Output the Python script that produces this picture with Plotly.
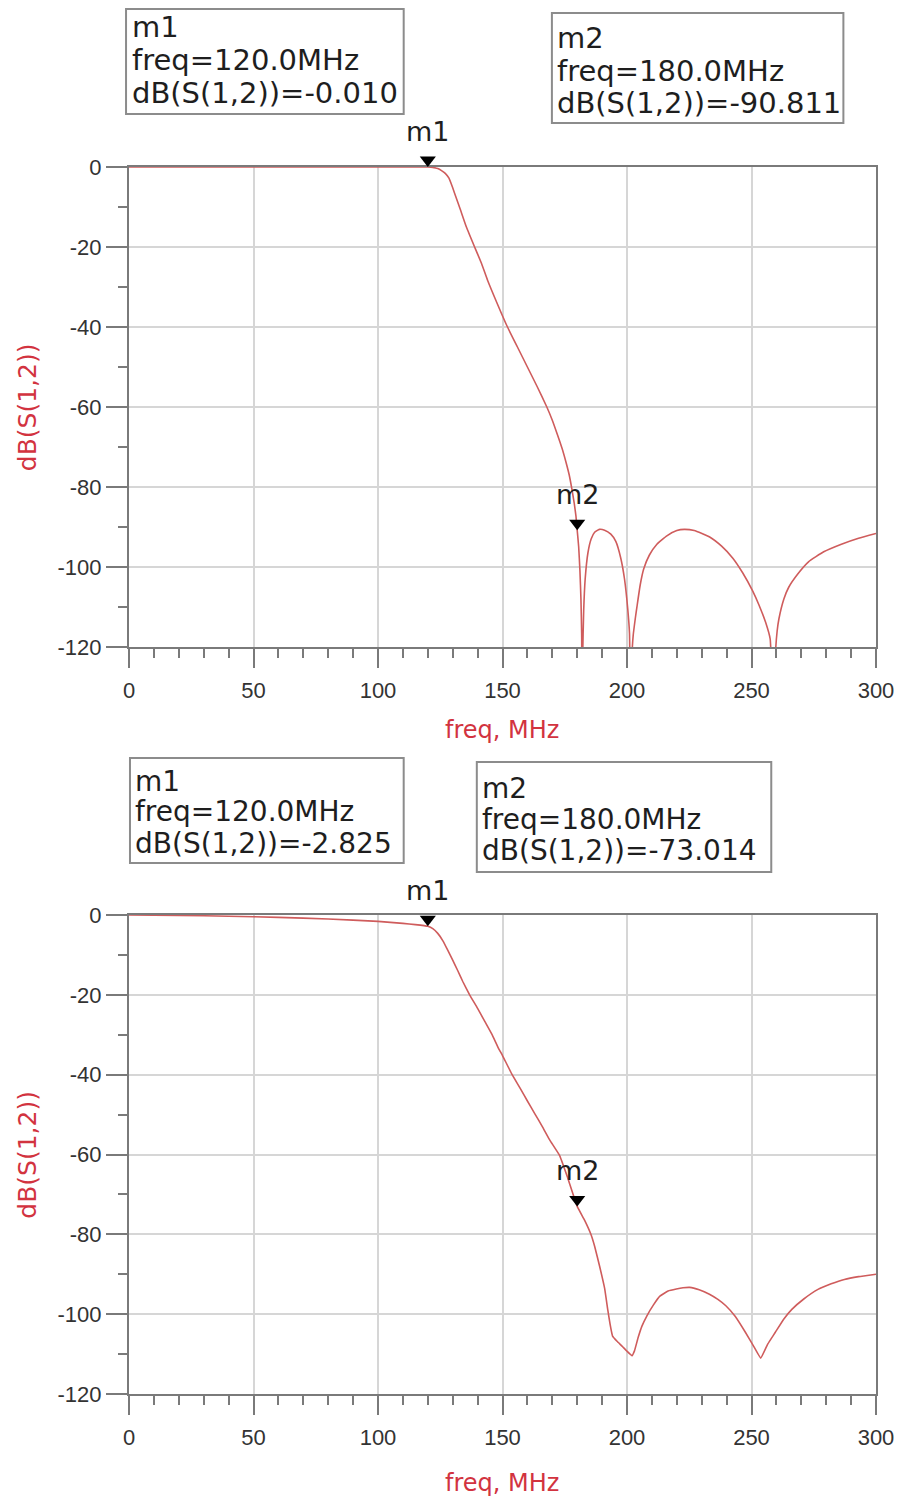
import plotly.graph_objects as go

# ---------------- data ----------------
top_freq = [0, 60, 110, 118, 120, 122, 124, 125.5, 127, 128.5,
            130, 131.5, 133, 135.5, 138.8, 141.5, 144, 148, 152, 156,
            160, 164, 167.8, 170, 172, 174, 175.5, 176.8, 177.8, 178.8,
            179.5, 180, 180.6, 181.1, 181.5, 181.8, 182, 182.2, 182.6, 183.2,
            184.3, 185.6, 187, 188.9, 191, 193.5, 195.5, 197.5, 199, 200.3,
            201, 201.5, 202, 202.5, 203.3, 204.1, 205.3, 206.7, 209, 212,
            216, 220, 223, 227, 233.2, 238, 242.5, 246.5, 250.4, 253,
            255.7, 257.5, 259, 259.6, 260.3, 261, 263, 265, 268.5, 272.9,
            279, 286.1, 293, 300]
top_db = [0, 0, 0, 0, -0.01, -0.1, -0.4, -0.9, -1.6, -2.8,
          -5.2, -7.9, -10.5, -15, -20, -24, -28.3, -34.3, -40, -45,
          -50, -55, -60, -63.3, -66.8, -70.5, -73.8, -77, -80.3, -84,
          -87.3, -90.8, -95, -101, -108, -117, -145, -122, -111, -103,
          -96.5, -93, -91.3, -90.6, -90.8, -91.8, -93.6, -97.8, -103, -110.5,
          -116.5, -145, -122, -117, -113, -109.5, -104.5, -100.5, -97, -94.3,
          -92.2, -90.9, -90.6, -90.9, -92.5, -94.8, -97.8, -101.5, -105.9, -109.5,
          -113.9, -118, -145, -122, -116, -113, -108, -105, -101.8, -98.7,
          -96.2, -94.3, -92.8, -91.6]

bot_freq = [0, 20, 40, 60, 80, 100, 110, 115, 120, 122,
            124, 126, 128, 130, 132, 134, 136.8, 140, 143, 146,
            148.4, 150, 153.7, 157, 160, 163, 166, 169, 172.9, 176,
            180, 183, 185.5, 187, 189, 191, 192.3, 193.2, 194.2, 196,
            198, 200, 202, 203, 204.5, 206, 208, 210.5, 213.2, 216.5,
            219.8, 222.5, 225.2, 229, 233.1, 236.5, 239.7, 243.5, 247.6, 251,
            253.7, 256.5, 259.5, 263, 266.2, 271, 276.7, 282, 287.3, 293,
            300]
bot_db = [0, -0.1, -0.3, -0.6, -1.0, -1.6, -2.1, -2.4, -2.83, -3.4,
          -4.6, -6.4, -8.8, -11.3, -13.9, -16.6, -20, -23.4, -26.8, -30.2,
          -33.4, -35.2, -39.8, -43.3, -46.6, -49.8, -53, -56.4, -60.2, -65.5,
          -73.0, -76.5, -80, -83, -88, -93.5, -99, -102.5, -105.5, -106.8,
          -108, -109.3, -110.4, -109.2, -105.8, -103, -100.4, -97.8, -95.5, -94.2,
          -93.7, -93.4, -93.3, -93.9, -95, -96.3, -97.9, -100.6, -104.6, -108.2,
          -111, -107.5, -104.6, -101.2, -98.8, -96.2, -93.8, -92.4, -91.3, -90.6,
          -90]

marker_names = ["m1", "m2"]
marker_freq = [120.0, 180.0]
top_marker_db = [-0.010, -90.811]
bot_marker_db = [-2.825, -73.014]

x_ticks = [0, 50, 100, 150, 200, 250, 300]
y_ticks = [0, -20, -40, -60, -80, -100, -120]

assert len(top_freq) == len(top_db)
assert len(bot_freq) == len(bot_db)

# ---------------- style / layout helpers ----------------
W, H = 906, 1497          # page size
OFF = 8                   # default body margin of the html page
L, R, T, B = 129, 885, 167, 1394          # outer plot-area bounds (page pixels)
TOP_BOTTOM_PX, BOT_TOP_PX = 647, 915
FIG_W, FIG_H = W - OFF, H - OFF


def pxx(p):
    return (p - L) / (R - L)


def pxy(p):
    return (B - p) / (B - T)


CURVE = "#cf5c5c"
AXIS_LINE = "#7a7a7a"
GRID = "#d6d6d6"
TITLE_RED = "#d2333f"
TEXT = "#1e1e1e"
TICK_FONT = dict(family="Liberation Sans, Arial, sans-serif", size=22, color="#333333")
MARK_FONT = dict(family="DejaVu Sans, sans-serif", size=27, color=TEXT)

fig = go.Figure()

fig.add_trace(go.Scatter(x=top_freq, y=top_db, mode="lines",
                         line=dict(color=CURVE, width=1.6, shape="spline", smoothing=0.4),
                         xaxis="x", yaxis="y", hoverinfo="skip"))
fig.add_trace(go.Scatter(x=bot_freq, y=bot_db, mode="lines",
                         line=dict(color=CURVE, width=1.6, shape="spline", smoothing=0.3),
                         xaxis="x2", yaxis="y2", hoverinfo="skip"))

for xa, ya, vals in [("x", "y", top_marker_db), ("x2", "y2", bot_marker_db)]:
    fig.add_trace(go.Scatter(
        x=marker_freq, y=vals, mode="markers",
        marker=dict(symbol="triangle-up", angle=180, standoff=7, size=14,
                    color="black"),
        xaxis=xa, yaxis=ya, cliponaxis=False, hoverinfo="skip"))
    for name, f, v in zip(marker_names, marker_freq, vals):
        fig.add_annotation(x=f, y=v, xref=xa, yref=ya, text=name,
                           showarrow=False, xanchor="center", yanchor="bottom",
                           yshift=18, font=MARK_FONT)

axis_common = dict(
    showline=True, linecolor=AXIS_LINE, linewidth=2, mirror=True,
    showgrid=True, gridcolor=GRID, gridwidth=1.5,
    zeroline=False, ticks="outside", tickcolor=AXIS_LINE, tickwidth=1.5,
    tickfont=TICK_FONT, layer="below traces",
)

xaxis_cfg = dict(axis_common, range=[0, 300], tickvals=x_ticks,
                 ticktext=[str(v) for v in x_ticks], ticklen=19,
                 ticklabelstandoff=4,
                 minor=dict(dtick=10, ticklen=9, tickcolor=AXIS_LINE,
                            tickwidth=1.5, ticks="outside", showgrid=False))
yaxis_cfg = dict(axis_common, range=[-120, 0], tickvals=y_ticks,
                 ticktext=[str(v) for v in y_ticks], ticklen=21,
                 minor=dict(dtick=10, ticklen=9, tickcolor=AXIS_LINE,
                            tickwidth=1.5, ticks="outside", showgrid=False))

fig.update_layout(
    width=FIG_W, height=FIG_H,
    margin=dict(l=L - OFF, r=W - R, t=T - OFF, b=FIG_H - (B - OFF), pad=0),
    paper_bgcolor="white", plot_bgcolor="white",
    showlegend=False,
    xaxis=dict(xaxis_cfg, domain=[0, 1], anchor="y"),
    yaxis=dict(yaxis_cfg, domain=[pxy(TOP_BOTTOM_PX), 1], anchor="x"),
    xaxis2=dict(xaxis_cfg, domain=[0, 1], anchor="y2"),
    yaxis2=dict(yaxis_cfg, domain=[0, pxy(BOT_TOP_PX)], anchor="x2"),
)

# axis titles
for cy_x, cy_y in [(730, (T + TOP_BOTTOM_PX) / 2), (1483, (BOT_TOP_PX + B) / 2)]:
    fig.add_annotation(x=pxx((L + R) / 2 - 1), y=pxy(cy_x), xref="paper", yref="paper",
                       text="freq, MHz", showarrow=False, xanchor="center",
                       yanchor="middle",
                       font=dict(family="DejaVu Sans, sans-serif", size=24,
                                 color=TITLE_RED))
    fig.add_annotation(x=pxx(26), y=pxy(cy_y), xref="paper", yref="paper",
                       text="dB(S(1,2))", showarrow=False, textangle=-90,
                       xanchor="center", yanchor="middle",
                       font=dict(family="DejaVu Sans, sans-serif", size=25,
                                 color=TITLE_RED))

# marker readout boxes:
# (left, top, right, bottom, text-left, line centers, font size, marker index, values)
boxes = [
    (126, 9, 407, 114, 131, [27, 60, 93], 29, 0, top_marker_db),
    (557, 13, 852, 123, 561, [38, 71, 103], 29, 1, top_marker_db),
    (130, 758, 407, 863, 134, [781, 812, 843], 28, 0, bot_marker_db),
    (481, 762, 779, 872, 485, [788, 819, 850], 28, 1, bot_marker_db),
]
for x0, y0, x1, y1, tx, lines_y, fs, mi, vals in boxes:
    fig.add_shape(type="rect", xref="paper", yref="paper",
                  x0=pxx(x0), x1=pxx(x1), y0=pxy(y1), y1=pxy(y0),
                  line=dict(color="#8c8c8c", width=2), fillcolor="rgba(0,0,0,0)")
    texts = [marker_names[mi],
             "freq=%.1fMHz" % marker_freq[mi],
             "dB(S(1,2))=%.3f" % vals[mi]]
    for t, ly in zip(texts, lines_y):
        fig.add_annotation(x=pxx(tx), y=pxy(ly), xref="paper", yref="paper",
                           text=t, showarrow=False, xanchor="left",
                           yanchor="middle", borderpad=0,
                           font=dict(family="DejaVu Sans, sans-serif", size=fs,
                                     color=TEXT))

fig.write_html("out.html")
